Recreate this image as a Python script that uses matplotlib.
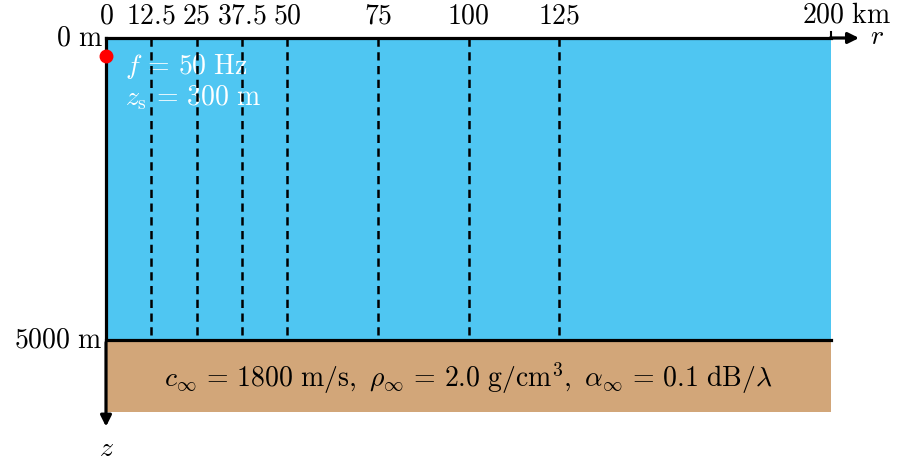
import matplotlib.pyplot as plt
from matplotlib.patches import Rectangle

plt.rcParams['mathtext.fontset'] = 'cm'
plt.rcParams['font.family'] = 'serif'
plt.rcParams['font.serif'] = ['cmr10', 'DejaVu Serif']

# receiver ranges (km) and domain
ranges = [12.5, 25, 37.5, 50, 75, 100, 125]
range_labels = ['12.5', '25', '37.5', '50', '75', '100', '125']
r_max = 200
depth = 5000
bottom_depth = 6200
src_depth = 300
freq = 50

water = '#4fc6f2'
sediment = '#d2a679'

fig = plt.figure(figsize=(8.98, 4.61), dpi=100)
ax = fig.add_axes([0, 0, 1, 1])
# pixel mapping: r=0 at px 106, r=200 at px 831; z=0 at px 38, z=5000 at px 340
kx = (831 - 106) / r_max
ky = (340 - 38) / depth
ax.set_xlim(-106 / kx, (898 - 106) / kx)
ax.set_ylim((461 - 38) / ky, -38 / ky)
ax.axis('off')

ax.add_patch(Rectangle((0, 0), r_max, depth, facecolor=water, edgecolor='none', zorder=1))
ax.add_patch(Rectangle((0, depth), r_max, bottom_depth - depth, facecolor=sediment,
                       edgecolor='none', zorder=1))

for r in ranges:
    ax.plot([r, r], [0, depth], color='black', lw=1.8, ls=(0, (3.3, 2.2)), zorder=4)

ax.plot([0, r_max], [depth, depth], color='black', lw=2.3, zorder=5)
ax.plot([0, r_max], [0, 0], color='black', lw=2.3, zorder=5)
ax.plot([0, 0], [0, depth], color='black', lw=2.3, zorder=5)

# axes arrows
ax.annotate('', xy=(208.5, 0), xytext=(r_max - 1, 0),
            arrowprops=dict(arrowstyle='-|>', color='black', lw=2.3, mutation_scale=16),
            zorder=6)
ax.annotate('', xy=(0, 6480), xytext=(0, depth - 5),
            arrowprops=dict(arrowstyle='-|>', color='black', lw=2.3, mutation_scale=16),
            zorder=6)
ax.plot([r_max, r_max], [0, -100], color='black', lw=1.5, zorder=6)

fs = 20
ax.text(210.8, 95, r'$r$', fontsize=fs, va='baseline', ha='left')
ax.text(0, 6800, r'$z$', fontsize=fs, va='center', ha='center')

ax.text(0, -240, r'$0$', fontsize=fs, ha='center', va='baseline')
for r, lab in zip(ranges, range_labels):
    ax.text(r, -240, '$' + lab + '$', fontsize=fs, ha='center', va='baseline')
ax.text(r_max - 8, -255, r'$200\ \mathrm{km}$', fontsize=fs, ha='left', va='baseline')

ax.text(-1, 0, r'$0\ \mathrm{m}$', fontsize=fs, ha='right', va='center')
ax.text(-1, depth, r'$5000\ \mathrm{m}$', fontsize=fs, ha='right', va='center')

ax.plot([0], [src_depth], 'o', color='red', ms=9, zorder=7, clip_on=False)

ax.text(5.3, 480, r'$f\,=\,%d\ \mathrm{Hz}$' % freq, fontsize=fs, color='white',
        ha='left', va='center', zorder=3)
ax.text(5.3, 980, r'$z_\mathrm{s}\,=\,%d\ \mathrm{m}$' % src_depth, fontsize=fs,
        color='white', ha='left', va='center', zorder=3)

ax.text(r_max / 2, 5630,
        r'$c_\infty\,=\,1800\ \mathrm{m/s},\ \rho_\infty\,=\,2.0\ \mathrm{g/cm}^3,'
        r'\ \alpha_\infty\,=\,0.1\ \mathrm{dB}/\lambda$',
        fontsize=fs, ha='center', va='center', zorder=3)

fig.savefig('out.png', dpi=100)
